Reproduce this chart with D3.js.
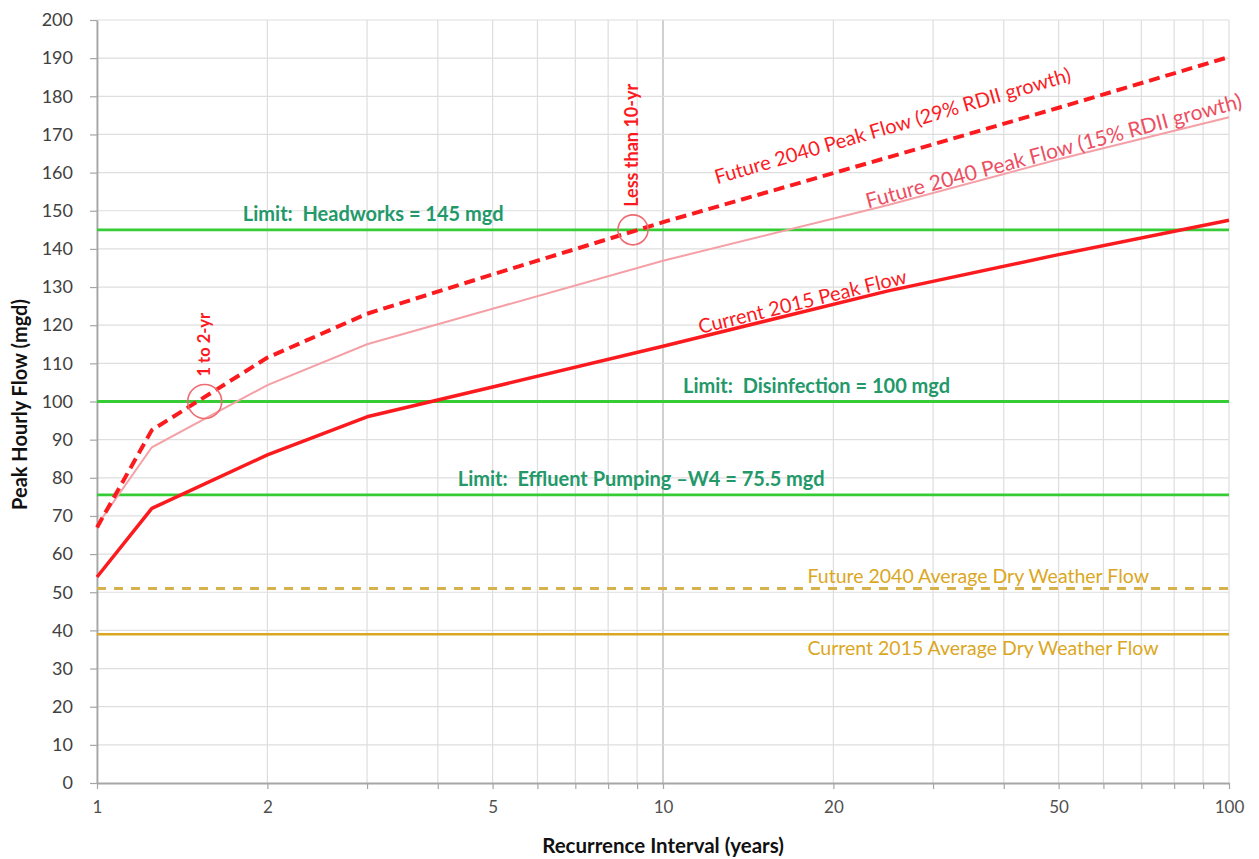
<!DOCTYPE html>
<html>
<head>
<meta charset="utf-8">
<script src="https://cdn.jsdelivr.net/npm/d3@7"></script>
<style>
  body { margin: 0; background: #fff; }
  svg { display: block; font-family: Lato, "Open Sans", sans-serif; }
  text { white-space: pre; }
</style>
</head>
<body>
<script>
// recurrence interval (years) and peak hourly flows (mgd)
var intervals = [1, 1.25, 2, 3, 5, 10, 25, 50, 100];
var current2015 = [54, 72, 86, 96, 103.8, 114.5, 129, 138.5, 147.5];
var future15 = [67.5, 88, 104.3, 115, 124.3, 136.9, 151.5, 163.5, 174.5];
var future29 = [67, 92.5, 111.5, 123, 133.3, 147, 164, 177, 190.3];

var limitNames = ['Limit:  Headworks = 145 mgd', 'Limit:  Disinfection = 100 mgd', 'Limit:  Effluent Pumping \u2013W4 = 75.5 mgd'];
var limitValues = [145, 100, 75.5];
var dryNames = ['Future 2040 Average Dry Weather Flow', 'Current 2015 Average Dry Weather Flow'];
var dryValues = [51, 39];

var xTickLabels = [1, 2, 5, 10, 20, 50, 100];
var yTicks = [0, 10, 20, 30, 40, 50, 60, 70, 80, 90, 100, 110, 120, 130, 140, 150, 160, 170, 180, 190, 200];

var width = 1259, height = 859;
var m = {top: 20, right: 30, bottom: 76, left: 97};
var RED = '#fb1b1f', PINK = '#f4a0a6', GREEN = '#35cc35', TEAL = '#23996a', GOLD = '#dba723', GOLD2 = '#d7b24c';

var svg = d3.select('body').append('svg').attr('width', width).attr('height', height);
var x = d3.scaleLog().domain([1, 100]).range([m.left, width - m.right]);
var y = d3.scaleLinear().domain([0, 200]).range([height - m.bottom, m.top]);

// gridlines
svg.append('g').selectAll('line').data(x.ticks()).enter().append('line')
  .attr('x1', function(d){ return x(d); }).attr('x2', function(d){ return x(d); })
  .attr('y1', y(0)).attr('y2', y(200))
  .attr('stroke', function(d){ return d === 10 ? '#c4c4c4' : '#dedede'; })
  .attr('stroke-width', function(d){ return d === 10 ? 1.6 : 1.2; });
svg.append('g').selectAll('line').data(yTicks.filter(function(d){ return d > 0; })).enter().append('line')
  .attr('x1', x(1)).attr('x2', x(100))
  .attr('y1', function(d){ return y(d); }).attr('y2', function(d){ return y(d); })
  .attr('stroke', '#dedede').attr('stroke-width', 1.2);

// axes
var yAxis = d3.axisLeft(y).tickValues(yTicks).tickSize(7).tickSizeOuter(0).tickPadding(17);
var yg = svg.append('g').attr('transform', 'translate(' + m.left + ',0)').call(yAxis);
var xAxis = d3.axisBottom(x).tickValues(x.ticks()).tickSize(6).tickSizeOuter(0).tickPadding(12)
  .tickFormat(function(d){ return xTickLabels.indexOf(d) >= 0 ? d : ''; });
var xg = svg.append('g').attr('transform', 'translate(0,' + y(0) + ')').call(xAxis);
[yg, xg].forEach(function(g){
  g.select('.domain').attr('stroke', '#a6a6a6').attr('stroke-width', 1.8);
  g.selectAll('.tick line').attr('stroke', '#a6a6a6').attr('stroke-width', 1.2);
  g.selectAll('.tick text').attr('fill', '#404040').style('font-size', '18px').style('font-family', 'Lato, sans-serif');
});
xg.selectAll('.tick text').attr('fill', '#505050').style('font-size', '17px');

svg.append('text').attr('transform', 'translate(27,' + ((y(0) + y(200)) / 2 + 3) + ') rotate(-90)')
  .attr('text-anchor', 'middle').attr('font-weight', 'bold').attr('font-size', 20).attr('fill', '#111')
  .text('Peak Hourly Flow (mgd)');
svg.append('text').attr('x', 663).attr('y', 853)
  .attr('text-anchor', 'middle').attr('font-weight', 'bold').attr('font-size', 20.5).attr('fill', '#111')
  .text('Recurrence Interval (years)');

// horizontal reference lines
dryValues.forEach(function(v, i){
  svg.append('line').attr('x1', x(1)).attr('x2', x(100)).attr('y1', y(v)).attr('y2', y(v))
    .attr('stroke', i === 0 ? GOLD2 : GOLD).attr('stroke-width', i === 0 ? 3 : 2.5)
    .attr('stroke-dasharray', i === 0 ? '9,8' : null);
});
limitValues.forEach(function(v){
  svg.append('line').attr('x1', x(1)).attr('x2', x(100)).attr('y1', y(v)).attr('y2', y(v))
    .attr('stroke', GREEN).attr('stroke-width', 2.8);
});

// peak flow lines
var line = d3.line().x(function(d){ return x(d[0]); }).y(function(d){ return y(d[1]); });
svg.append('path').datum(d3.zip(intervals, future15)).attr('d', line)
  .attr('fill', 'none').attr('stroke', PINK).attr('stroke-width', 2);
svg.append('path').datum(d3.zip(intervals, current2015)).attr('d', line)
  .attr('fill', 'none').attr('stroke', RED).attr('stroke-width', 3.5).attr('stroke-linejoin', 'round');
svg.append('path').datum(d3.zip(intervals, future29)).attr('d', line)
  .attr('fill', 'none').attr('stroke', RED).attr('stroke-width', 4).attr('stroke-dasharray', '11,6');

// where a series sits at interval t, plus its on-screen angle there
function along(vals, t){
  var i = d3.bisectRight(intervals, t) - 1;
  i = Math.max(0, Math.min(intervals.length - 2, i));
  var x0 = x(intervals[i]), x1 = x(intervals[i + 1]), y0 = y(vals[i]), y1 = y(vals[i + 1]);
  var f = (x(t) - x0) / (x1 - x0);
  return {px: x(t), py: y0 + (y1 - y0) * f, ang: Math.atan2(y1 - y0, x1 - x0) * 180 / Math.PI};
}
function lineLabel(vals, t, txt, dy, color, size){
  var p = along(vals, t);
  svg.append('text').attr('transform', 'translate(' + p.px + ',' + p.py + ') rotate(' + p.ang + ')')
    .attr('dy', dy).attr('text-anchor', 'middle').attr('font-size', size).attr('fill', color)
    .text(txt);
}
lineLabel(current2015, 17.8, 'Current 2015 Peak Flow', -3, RED, 20);
lineLabel(future29, 26.3, 'Future 2040 Peak Flow (29% RDII growth)', -22, RED, 20);
lineLabel(future15, 49.5, 'Future 2040 Peak Flow (15% RDII growth)', -2, '#ec4e62', 21);

// limit labels
var limitAt = [1.81, 10.85, 4.34];
limitNames.forEach(function(n, i){
  svg.append('text').attr('x', x(limitAt[i])).attr('y', y(limitValues[i]) - 9)
    .attr('font-size', 20).attr('font-weight', 'bold').attr('fill', TEAL).text(n);
});
var dryDy = [-5, 21];
dryNames.forEach(function(n, i){
  svg.append('text').attr('x', x(18)).attr('y', y(dryValues[i]) + dryDy[i])
    .attr('font-size', 19.5).attr('fill', GOLD).text(n);
});

// crossing markers
var marks = [[1.55, 100, 17, '1 to 2-yr', 16.5], [8.85, 145, 15, 'Less than 10-yr', 18]];
marks.forEach(function(d){
  var cx = x(d[0]), cy = y(d[1]);
  svg.append('circle').attr('cx', cx).attr('cy', cy).attr('r', d[2])
    .attr('fill', 'none').attr('stroke', '#f06a72').attr('stroke-width', 1.6);
  svg.append('text').attr('transform', 'translate(' + (cx + 5) + ',' + (cy - d[2] - 8) + ') rotate(-90)')
    .attr('font-size', d[4]).attr('font-weight', 'bold').attr('fill', RED).text(d[3]);
});
</script>
</body>
</html>
